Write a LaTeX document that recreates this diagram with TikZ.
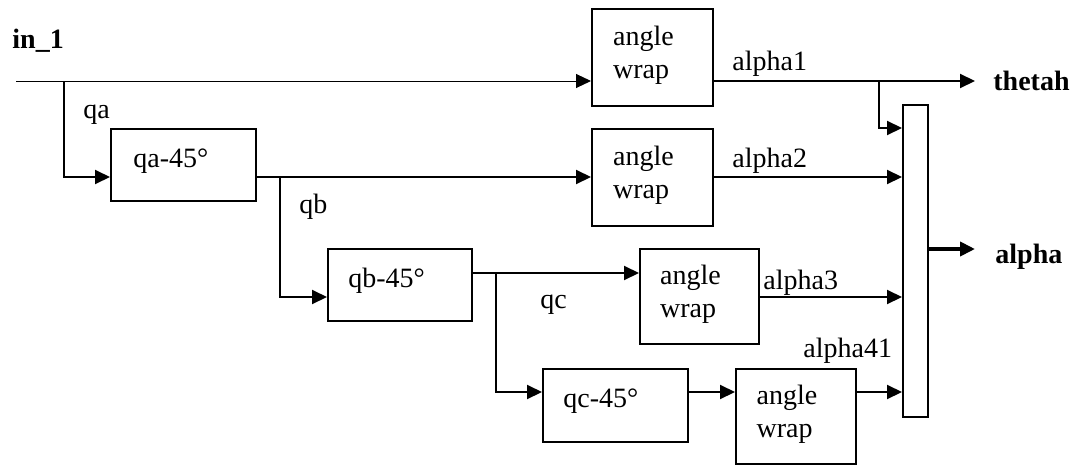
\documentclass[tikz,border=0pt]{standalone}
\usepackage{fontspec}
\setmainfont{Liberation Serif}
\usetikzlibrary{arrows.meta,fit}
\begin{document}
\begin{tikzpicture}[x=0.5pt,y=-0.5pt,
  box/.style={draw, line width=1pt, inner sep=0pt},
  ln/.style={line width=1pt},
  arr/.style={line width=1pt, -{Triangle[length=7.5pt,width=7pt]}},
  txt/.style={font=\fontsize{14}{16.5}\selectfont, inner sep=0pt},
  btxt/.style={font=\fontsize{14}{16.5}\selectfont\bfseries, inner sep=0pt}]
\useasboundingbox (0,0) rectangle (1080,466);
% row levels
\coordinate (r1) at (0,81);
\coordinate (r5) at (0,128);
\coordinate (r2) at (0,177);
\coordinate (rm) at (0,249);
\coordinate (r3) at (0,273);
\coordinate (r3b) at (0,297);
\coordinate (r4) at (0,392);
% boxes
\node[box, fit={(592,9) (713,106)}] (aw1) {};
\node[box, fit={(592,129) (713,226)}] (aw2) {};
\node[box, fit={(640,249) (759,344)}] (aw3) {};
\node[box, fit={(736,369) (856,464)}] (aw4) {};
\node[box, fit={(111,129) (256,201)}] (qa) {};
\node[box, fit={(328,249) (472,321)}] (qb) {};
\node[box, fit={(543,369) (688,442)}] (qc) {};
\node[box, fit={(903,105) (928,417)}] (mux) {};
% box texts
\foreach \b in {aw1,aw2,aw3,aw4}
  \node[txt, align=left] at ([shift={(-9,-2.5)}]\b.center) {angle\\wrap};
\node[txt, anchor=base west] at (133,167) {qa-45°};
\node[txt, anchor=base west] at (348,287) {qb-45°};
\node[txt, anchor=base west] at (563,407) {qc-45°};
% labels
\node[btxt, anchor=base west] (lin) at (12,48) {in\_1};
\node[txt, anchor=base west] (lqa) at (83,118) {qa};
\node[txt, anchor=base west] (lqb) at (299,213) {qb};
\node[txt, anchor=base west] (lqc) at (540,308) {qc};
\node[txt, anchor=base west] (la1) at (732,70) {alpha1};
\node[txt, anchor=base west] (la2) at (732,167) {alpha2};
\node[txt, anchor=base west] (la3) at (763,289) {alpha3};
\node[txt, anchor=base west] (la4) at (803,357) {alpha41};
\node[btxt, anchor=base west] (lth) at (993,90) {thetah};
\node[btxt, anchor=base west] (lal) at (995,263) {alpha};
% junctions and free ends
\coordinate (in) at (16,81);
\coordinate (ja) at (64,81);
\coordinate (jb) at (280,177);
\coordinate (jc) at (496,273);
\coordinate (jt) at (879,81);
\coordinate (thout) at (975,81);
\coordinate (alout) at (975,249);
% connectors
\draw[arr, line width=0.5pt] (in) -- (aw1.west |- r1);
\draw[arr] (ja) |- (qa.west |- r2);
\draw[arr] (qa.east |- r2) -- (aw2.west |- r2);
\draw[arr] (jb) |- (qb.west |- r3b);
\draw[arr] (qb.east |- r3) -- (aw3.west |- r3);
\draw[arr] (jc) |- (qc.west |- r4);
\draw[arr] (qc.east |- r4) -- (aw4.west |- r4);
\draw[arr] (aw1.east |- r1) -- (thout);
\draw[arr] (jt) |- (mux.west |- r5);
\draw[arr] (aw2.east |- r2) -- (mux.west |- r2);
\draw[arr] (aw3.east |- r3b) -- (mux.west |- r3b);
\draw[arr] (aw4.east |- r4) -- (mux.west |- r4);
\draw[arr, line width=2.2pt] (mux.east |- rm) -- (alout);
\end{tikzpicture}
\end{document}
